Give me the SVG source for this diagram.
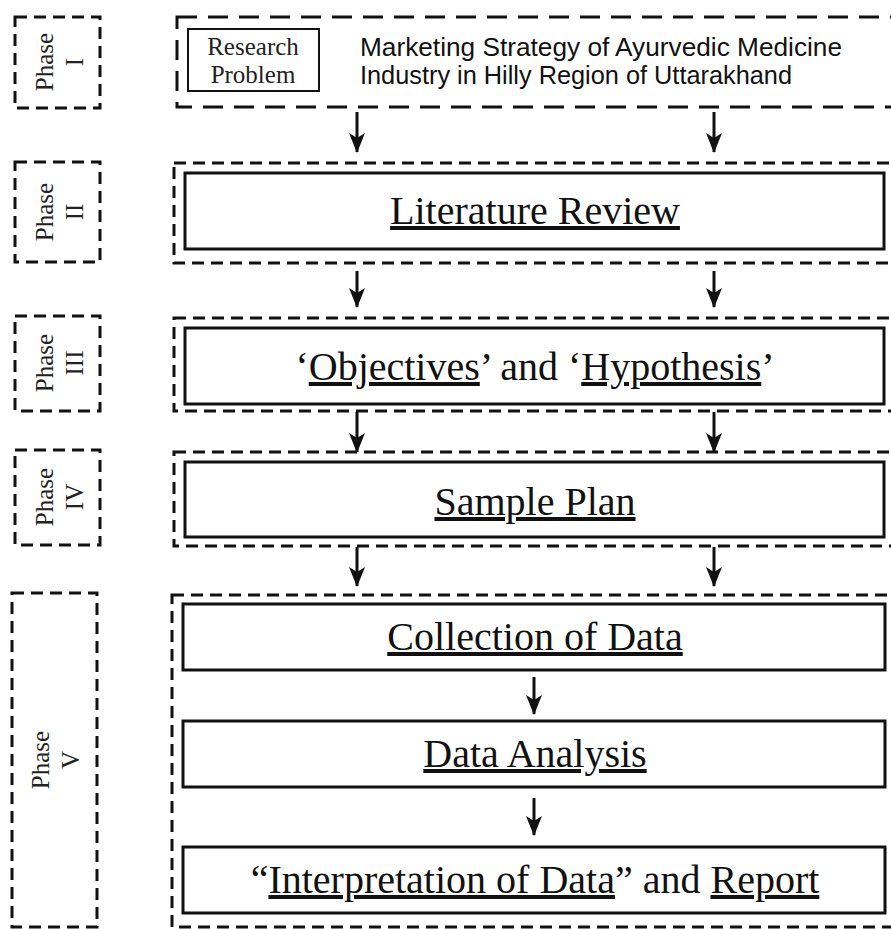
<svg xmlns="http://www.w3.org/2000/svg" width="891" height="929" viewBox="0 0 891 929">
  <style>
    .phase { fill: none; stroke: #111; stroke-width: 3; stroke-dasharray: 12 7; }
    .group { fill: none; stroke: #111; stroke-width: 3; stroke-dasharray: 12 7; }
    .group-long { fill: none; stroke: #111; stroke-width: 3; stroke-dasharray: 20 11; }
    .step { fill: #fff; stroke: #111; stroke-width: 3; }
    .small { fill: #fff; stroke: #111; stroke-width: 2; }
    .plabel { font-family: "Liberation Serif", "Times New Roman", serif; font-size: 25px; fill: #222; text-anchor: middle; }
    .title { font-family: "Liberation Serif", "Times New Roman", serif; font-size: 40px; fill: #111; text-anchor: middle; }
    .sans { font-family: "Liberation Sans", Arial, sans-serif; font-size: 25.5px; fill: #111; }
    .u { text-decoration: underline; }
    .conn line { stroke: #111; stroke-width: 3; }
  </style>
  <defs>
    <marker id="head" viewBox="0 0 20 16" refX="19" refY="8" markerWidth="20" markerHeight="16" markerUnits="userSpaceOnUse" orient="auto">
      <path d="M0,0 L20,8 L0,16 L5,8 Z" fill="#111"/>
    </marker>
  </defs>
  <rect width="891" height="929" fill="#fff"/>

  <!-- phase tags on the left -->
  <g id="phase-1">
    <rect class="phase" x="15" y="17" width="85" height="91"/>
    <g transform="translate(59,62) rotate(-90)">
      <text class="plabel" x="0" y="-6">Phase</text>
      <text class="plabel" x="0" y="24">I</text>
    </g>
  </g>
  <g id="phase-2">
    <rect class="phase" x="15" y="162" width="85" height="100"/>
    <g transform="translate(59,212) rotate(-90)">
      <text class="plabel" x="0" y="-6">Phase</text>
      <text class="plabel" x="0" y="24">II</text>
    </g>
  </g>
  <g id="phase-3">
    <rect class="phase" x="15" y="316" width="85" height="95"/>
    <g transform="translate(59,363) rotate(-90)">
      <text class="plabel" x="0" y="-6">Phase</text>
      <text class="plabel" x="0" y="24">III</text>
    </g>
  </g>
  <g id="phase-4">
    <rect class="phase" x="15" y="450" width="85" height="95"/>
    <g transform="translate(59,497) rotate(-90)">
      <text class="plabel" x="0" y="-6">Phase</text>
      <text class="plabel" x="0" y="24">IV</text>
    </g>
  </g>
  <g id="phase-5">
    <rect class="phase" x="12" y="593" width="85" height="334"/>
    <g transform="translate(55,760) rotate(-90)">
      <text class="plabel" x="0" y="-6">Phase</text>
      <text class="plabel" x="0" y="24">V</text>
    </g>
  </g>

  <!-- Phase I: research problem -->
  <g id="research-problem">
    <rect class="group-long" x="177" y="17" width="722" height="90"/>
    <rect class="small" x="188" y="29" width="131" height="62"/>
    <text class="plabel" x="253" y="55">Research</text>
    <text class="plabel" x="253" y="83">Problem</text>
    <text class="sans" x="360" y="56" textLength="482" lengthAdjust="spacingAndGlyphs">Marketing Strategy of Ayurvedic Medicine</text>
    <text class="sans" x="360" y="84" textLength="432" lengthAdjust="spacingAndGlyphs">Industry in Hilly Region of Uttarakhand</text>
  </g>

  <!-- Phase II -->
  <g id="literature-review">
    <rect class="group" x="174" y="163" width="725" height="100"/>
    <rect class="step" x="185" y="173" width="699" height="76"/>
    <text class="title" x="535" y="224"><tspan class="u">Literature Review</tspan></text>
  </g>

  <!-- Phase III -->
  <g id="objectives-hypothesis">
    <rect class="group" x="174" y="318" width="725" height="93"/>
    <rect class="step" x="185" y="328" width="699" height="76"/>
    <text class="title" x="535" y="380">‘<tspan class="u">Objectives</tspan>’ and ‘<tspan class="u">Hypothesis</tspan>’</text>
  </g>

  <!-- Phase IV -->
  <g id="sample-plan">
    <rect class="group" x="174" y="452" width="725" height="94"/>
    <rect class="step" x="185" y="462" width="699" height="75"/>
    <text class="title" x="535" y="515"><tspan class="u">Sample Plan</tspan></text>
  </g>

  <!-- Phase V -->
  <g id="phase-5-group">
    <rect class="group" x="172" y="595" width="727" height="332"/>
  </g>
  <g id="collection">
    <rect class="step" x="183" y="604" width="702" height="66"/>
    <text class="title" x="535" y="650"><tspan class="u">Collection of Data</tspan></text>
  </g>
  <g id="analysis">
    <rect class="step" x="183" y="721" width="702" height="66"/>
    <text class="title" x="535" y="767"><tspan class="u">Data Analysis</tspan></text>
  </g>
  <g id="interpretation">
    <rect class="step" x="183" y="847" width="702" height="66"/>
    <text class="title" x="535" y="893">“<tspan class="u">Interpretation of Data</tspan>” and <tspan class="u">Report</tspan></text>
  </g>

  <!-- connectors -->
  <g id="connectors" class="conn">
    <line x1="357" y1="112" x2="357" y2="152" marker-end="url(#head)"/>
    <line x1="714" y1="112" x2="714" y2="152" marker-end="url(#head)"/>
    <line x1="357" y1="271" x2="357" y2="307" marker-end="url(#head)"/>
    <line x1="714" y1="271" x2="714" y2="307" marker-end="url(#head)"/>
    <line x1="357" y1="412" x2="357" y2="452" marker-end="url(#head)"/>
    <line x1="714" y1="412" x2="714" y2="452" marker-end="url(#head)"/>
    <line x1="357" y1="547" x2="357" y2="586" marker-end="url(#head)"/>
    <line x1="714" y1="547" x2="714" y2="586" marker-end="url(#head)"/>
    <line x1="534" y1="677" x2="534" y2="714" marker-end="url(#head)"/>
    <line x1="534" y1="798" x2="534" y2="835" marker-end="url(#head)"/>
  </g>
</svg>
